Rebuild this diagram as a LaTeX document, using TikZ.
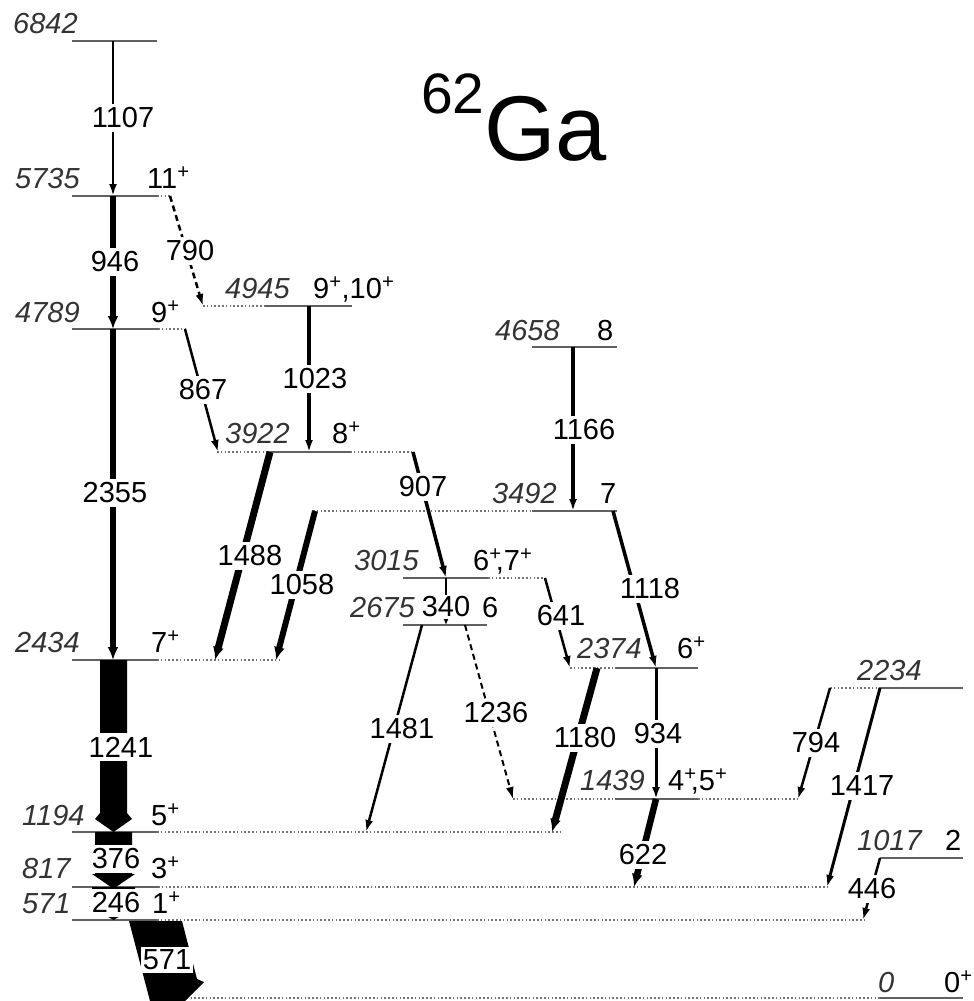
\documentclass[tikz,border=0pt]{standalone}
\usepackage{fontspec}
\setmainfont{Liberation Sans}
\usetikzlibrary{arrows.meta}
\definecolor{levgray}{gray}{0.38}
\definecolor{dotgray}{gray}{0.45}
\definecolor{engray}{gray}{0.2}
\newcommand{\psup}{\textsuperscript{+}}
\begin{document}
\begin{tikzpicture}[x=1pt,y=-1pt,
  lev/.style={draw=levgray, line width=2.8pt},
  ext/.style={draw=dotgray, line width=1.6pt, dash pattern=on 1.6pt off 2.2pt},
  gam/.style={draw=black, line width=#1, -{Latex[length=12pt,width=8pt]}},
  gamt/.style={draw=black, line width=#1, -{Latex[length=13pt,width=11pt]}},
  gams/.style={draw=black, line width=#1, -{Latex[length=7pt,width=6pt]}},
  dsh/.style={dash pattern=on 6pt off 4pt},
  elab/.style={font=\fontsize{29}{32}\selectfont\itshape, text=engray, anchor=base west, inner sep=0pt},
  slab/.style={font=\fontsize{29}{32}\selectfont, anchor=base west, inner sep=0pt},
  glab/.style={font=\fontsize{29}{32}\selectfont, fill=white, inner xsep=1.5pt, inner ysep=4pt}
]
\useasboundingbox (0,0) rectangle (974,1001);

% ---------------- levels ----------------
\draw[lev] (72,41) -- (157,41);
\draw[lev] (72,196) -- (157,196); \draw[ext] (157,196) -- (170,196);
\draw[lev] (72,329) -- (158,329); \draw[ext] (158,329) -- (185,329);
\draw[lev] (265,306) -- (352,306); \draw[ext] (203,306) -- (265,306);
\draw[lev] (267,452) -- (350,452); \draw[ext] (217,452) -- (267,452); \draw[ext] (350,452) -- (413,452);
\draw[lev] (532,347) -- (617,347);
\draw[lev] (532,511) -- (617,511); \draw[ext] (313,511) -- (532,511);
\draw[lev] (403,578) -- (488,578); \draw[ext] (488,578) -- (545,578);
\draw[lev] (403,625) -- (487,625);
\draw[lev] (72,660) -- (157,660); \draw[ext] (157,660) -- (280,660);
\draw[lev] (615,668) -- (698,668); \draw[ext] (570,668) -- (615,668);
\draw[lev] (880,688) -- (963,688); \draw[ext] (830,688) -- (880,688);
\draw[lev] (615,799) -- (698,799); \draw[ext] (513,799) -- (615,799); \draw[ext] (698,799) -- (798,799);
\draw[lev] (72,832) -- (157,832); \draw[ext] (157,832) -- (560,832);
\draw[lev] (880,858) -- (963,858);
\draw[lev] (72,887) -- (158,887); \draw[ext] (158,887) -- (828,887);
\draw[lev] (72,920) -- (157,920); \draw[ext] (157,920) -- (864,920);
\draw[lev] (880,998) -- (963,998); \draw[ext] (183,998) -- (880,998);

% ---------------- level labels ----------------
\node[elab] (e6842) at (13,33) {6842};
\node[elab] (e5735) at (15,188) {5735};
\node[slab] (s5735) at (147,188) {11\psup};
\node[elab] (e4789) at (15,322) {4789};
\node[slab] (s4789) at (151,322) {9\psup};
\node[elab] (e4945) at (225,298) {4945};
\node[slab] (s4945) at (313,298) {9\psup,10\psup};
\node[elab] (e3922) at (225,443) {3922};
\node[slab] (s3922) at (332,443) {8\psup};
\node[elab] (e4658) at (495,340) {4658};
\node[slab] (s4658) at (597,340) {8};
\node[elab] (e3492) at (492,503) {3492};
\node[slab] (s3492) at (600,503) {7};
\node[elab] (e3015) at (354,570) {3015};
\node[slab] (s3015) at (473,570) {6\psup\kern-0.2em,7\psup};
\node[elab] (e2675) at (350,617) {2675};
\node[slab] (s2675) at (482,617) {6};
\node[elab] (e2434) at (15,652) {2434};
\node[slab] (s2434) at (151,652) {7\psup};
\node[elab] (e2374) at (577,658) {2374};
\node[slab] (s2374) at (677,658) {6\psup};
\node[elab] (e2234) at (857,680) {2234};
\node[elab] (e1439) at (580,790) {1439};
\node[slab] (s1439) at (668,790) {4\psup\kern-0.2em,5\psup};
\node[elab] (e1194) at (22,825) {1194};
\node[slab] (s1194) at (151,825) {5\psup};
\node[elab] (e1017) at (857,850) {1017};
\node[slab] (s1017) at (945,850) {2};
\node[elab] (e817) at (22,878) {817};
\node[slab] (s817) at (151,878) {3\psup};
\node[elab] (e571) at (22,913) {571};
\node[slab] (s571) at (152,913) {1\psup};
\node[elab] (e0) at (878,992) {0};
\node[slab] (s0) at (944,992) {0\psup};

% ---------------- title ----------------
\node[anchor=base west, inner sep=0pt, font=\fontsize{57}{60}\selectfont] (t62) at (421,113) {62};
\node[anchor=base west, inner sep=0pt, font=\fontsize{92}{100}\selectfont] (tGa) at (484,160) {Ga};

% ---------------- transition end points ----------------
\coordinate (a1107) at (113,41);  \coordinate (b1107) at (113,196);
\coordinate (a946) at (113,196);  \coordinate (b946) at (113,329);
\coordinate (a2355) at (113,329); \coordinate (b2355) at (113,660);
\coordinate (a790) at (170,196);  \coordinate (b790) at (203,306);
\coordinate (a867) at (185,329);  \coordinate (b867) at (218,452);
\coordinate (a1023) at (309,306); \coordinate (b1023) at (309,452);
\coordinate (a1166) at (573,347); \coordinate (b1166) at (573,511);
\coordinate (a1488) at (270,452); \coordinate (b1488) at (215,660);
\coordinate (a1058) at (315,511); \coordinate (b1058) at (276,660);
\coordinate (a907) at (413,452);  \coordinate (b907) at (446,578);
\coordinate (a340) at (446,578);  \coordinate (b340) at (446,625);
\coordinate (a1118) at (613,511); \coordinate (b1118) at (656,668);
\coordinate (a641) at (545,578);  \coordinate (b641) at (570,668);
\coordinate (a1481) at (422,625); \coordinate (b1481) at (366,832);
\coordinate (a1236) at (465,625); \coordinate (b1236) at (513,799);
\coordinate (a1180) at (597,668); \coordinate (b1180) at (552,832);
\coordinate (a934) at (656,668);  \coordinate (b934) at (656,799);
\coordinate (a622) at (656,799);  \coordinate (b622) at (634,887);
\coordinate (a794) at (830,688);  \coordinate (b794) at (798,799);
\coordinate (a1417) at (880,688); \coordinate (b1417) at (827,887);
\coordinate (a446) at (880,858);  \coordinate (b446) at (863,920);

% ---------------- transitions ----------------
\draw[gam=2.8pt] (a1107) -- (b1107);
\draw[gamt=6.5pt] (a946) -- (b946);
\draw[gamt=6.5pt] (a2355) -- (b2355);
\draw[gam=2.5pt, dsh] (a790) -- (b790);
\draw[gam=2.5pt] (a867) -- (b867);
\draw[gam=4pt] (a1023) -- (b1023);
\draw[gam=4pt] (a1166) -- (b1166);
\draw[gamt=7pt] (a1488) -- (b1488);
\draw[gamt=6pt] (a1058) -- (b1058);
\draw[gam=3.5pt] (a907) -- (b907);
\draw[gams=2.5pt] (a340) -- (b340);
\draw[gam=3.5pt] (a1118) -- (b1118);
\draw[gam=2.5pt] (a641) -- (b641);
\draw[gam=2.5pt] (a1481) -- (b1481);
\draw[gam=2pt, dsh] (a1236) -- (b1236);
\draw[gamt=7pt] (a1180) -- (b1180);
\draw[gam=3pt] (a934) -- (b934);
\draw[gamt=6.5pt] (a622) -- (b622);
\draw[gam=2.5pt] (a794) -- (b794);
\draw[gam=3pt] (a1417) -- (b1417);
\draw[gam=2.5pt] (a446) -- (b446);

% wide (intense) transitions
\fill (100,660) -- (127,660) -- (127,813) -- (132,819) -- (113.5,832) -- (95,819) -- (100,813) -- cycle;
\fill (95,832) -- (132,832) -- (132,874) -- (135,874) -- (116,887) -- (111,887) -- (92,874) -- (95,874) -- cycle;
\fill (92,887) -- (135,887) -- (135,906) -- (138,906) -- (113.5,920) -- (89,906) -- (92,906) -- cycle;
\fill (129,921) -- (182,921) -- (197,979) -- (204,982) -- (185,1001) -- (150,1001) -- cycle;

% ---------------- transition labels ----------------
\node[glab] (l1107) at (123,118) {1107};
\node[glab] (l946) at (115,262) {946};
\node[glab] (l2355) at (115,493) {2355};
\node[glab] (l1241) at (121,747) {1241};
\node[glab] (l376) at (116,859) {376};
\node[glab] (l246) at (116,903) {246};
\node[glab, inner xsep=2pt, inner ysep=3pt] (l571) at (167,960) {571};
\node[glab] (l790) at (190,251) {790};
\node[glab] (l867) at (203,390) {867};
\node[glab] (l1023) at (315,379) {1023};
\node[glab] (l1166) at (584,430) {1166};
\node[glab] (l1488) at (250,556) {1488};
\node[glab] (l1058) at (302,585) {1058};
\node[glab] (l907) at (423,487) {907};
\node[glab, inner ysep=2pt] (l340) at (446,607) {340};
\node[glab] (l1118) at (650,589) {1118};
\node[glab] (l641) at (561,616) {641};
\node[glab] (l1481) at (402,729) {1481};
\node[glab] (l1236) at (496,713) {1236};
\node[glab] (l1180) at (585,738) {1180};
\node[glab] (l934) at (658,734) {934};
\node[glab] (l622) at (643,855) {622};
\node[glab] (l794) at (816,743) {794};
\node[glab] (l1417) at (862,786) {1417};
\node[glab] (l446) at (872,889) {446};
\end{tikzpicture}
\end{document}
